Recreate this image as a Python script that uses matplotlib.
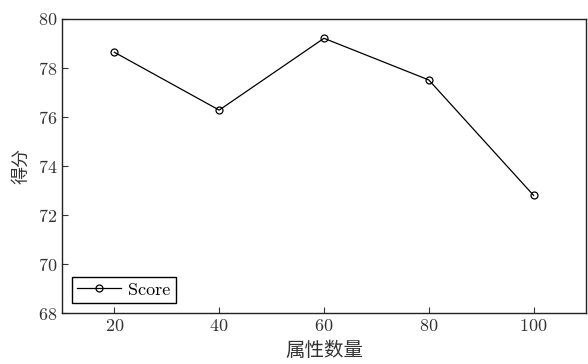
import matplotlib
matplotlib.use('Agg')
import matplotlib.pyplot as plt

# attribute count vs. score
n_attrs = [20, 40, 60, 80, 100]
score = [78.64, 76.28, 79.21, 77.51, 72.80]
x_ticks = [20, 40, 60, 80, 100]
y_ticks = [68, 70, 72, 74, 76, 78, 80]

plt.rcParams['font.family'] = ['cmr10', 'Noto Sans CJK SC']
plt.rcParams['axes.formatter.use_mathtext'] = True
plt.rcParams['mathtext.fontset'] = 'cm'

fig = plt.figure(figsize=(5.88, 3.64), dpi=100)
ax = fig.add_axes([0.1054, 0.140, 0.8912, 0.808])

ax.plot(n_attrs, score, color='black', linewidth=0.9, marker='o',
        markersize=5, markerfacecolor='none', markeredgewidth=0.9, label='Score')

ax.set_xlim(10, 110)
ax.set_ylim(68, 80)
ax.set_xticks(x_ticks)
ax.set_yticks(y_ticks)
ax.tick_params(direction='in', length=4, width=0.8, labelsize=13,
               top=False, right=False, colors='#333333', labelcolor='#333333')
for sp in ax.spines.values():
    sp.set_linewidth(1.0)
    sp.set_color('#222222')

ax.set_xlabel('属性数量', fontsize=14, family='Noto Sans CJK SC', labelpad=4, color='#333333')
ax.set_ylabel('得分', fontsize=13, family='Noto Sans CJK SC', labelpad=5, color='#333333')

leg = ax.legend(loc='lower left', fontsize=13, fancybox=False, framealpha=1,
                edgecolor='black', borderpad=0.3, handlelength=2.4,
                handletextpad=0.4, borderaxespad=0.55)
leg.get_frame().set_linewidth(1.0)

fig.savefig('out.png', dpi=100)
